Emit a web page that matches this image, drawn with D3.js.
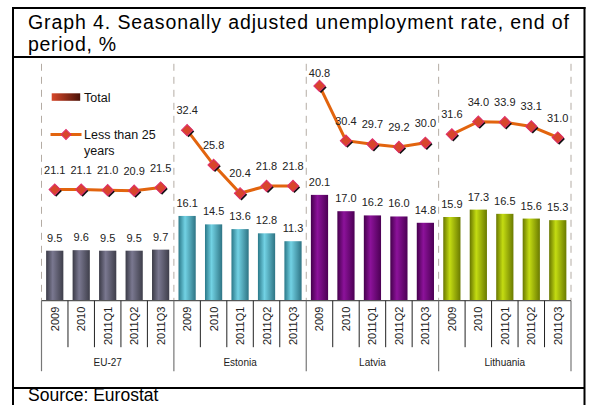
<!DOCTYPE html>
<html>
<head>
<meta charset="utf-8">
<script src="https://cdn.jsdelivr.net/npm/d3@7"></script>
<style>
  html, body { margin: 0; padding: 0; background: #fff; }
  svg { display: block; font-family: "Liberation Sans", Arial, sans-serif; }
</style>
</head>
<body>
<svg id="chart" width="591" height="405"></svg>
<script>
// Unemployment data, end of period, %
const countries = ["EU-27", "Estonia", "Latvia", "Lithuania"];
const periods = ["2009", "2010", "2011Q1", "2011Q2", "2011Q3"];
const totalRates = [
  [9.5, 9.6, 9.5, 9.5, 9.7],
  [16.1, 14.5, 13.6, 12.8, 11.3],
  [20.1, 17.0, 16.2, 16.0, 14.8],
  [15.9, 17.3, 16.5, 15.6, 15.3]
];
const youthRates = [
  [21.1, 21.1, 21.0, 20.9, 21.5],
  [32.4, 25.8, 20.4, 21.8, 21.8],
  [40.8, 30.4, 29.7, 29.2, 30.0],
  [31.6, 34.0, 33.9, 33.1, 31.0]
];
const yDomain = [0, 45];

// Bar shading per country: [edge, highlight, far edge]
const barColors = [
  ["#3a3a46", "#7a7890", "#3e3e4a"],
  ["#2a7888", "#72d2e4", "#2e7484"],
  ["#45004c", "#8c129a", "#4c0054"],
  ["#687600", "#c4dc12", "#6a7a00"]
];

const svg = d3.select("#chart");
const W = 591, H = 405;
const plot = { left: 41.5, right: 571, top: 63.8, bottom: 300.7 };

svg.append("rect").attr("width", W).attr("height", H).attr("fill", "#fff");

// Flattened category keys
const rows = [];
countries.forEach((c, gi) => periods.forEach((p, pi) => rows.push({
  key: c + "|" + p, country: c, period: p, gi, pi,
  total: totalRates[gi][pi], youth: youthRates[gi][pi]
})));

const x = d3.scaleBand().domain(rows.map(d => d.key))
  .range([plot.left, plot.right]).paddingInner(0.35).paddingOuter(0.175);
const xg = d3.scaleBand().domain(countries).range([plot.left, plot.right]);
const y = d3.scaleLinear().domain(yDomain).range([plot.bottom, plot.top]);
const step = x.step();
const cx = d => x(d.key) + x.bandwidth() / 2;

// Gradients
const defs = svg.append("defs");
barColors.forEach((c, i) => {
  const g = defs.append("linearGradient").attr("id", "bar" + i)
    .attr("x1", "0").attr("x2", "1").attr("y1", "0").attr("y2", "0");
  g.append("stop").attr("offset", "0%").attr("stop-color", c[0]);
  g.append("stop").attr("offset", "38%").attr("stop-color", c[1]);
  g.append("stop").attr("offset", "100%").attr("stop-color", c[2]);
});
const lg = defs.append("linearGradient").attr("id", "legendTotal")
  .attr("x1", "0").attr("x2", "1");
lg.append("stop").attr("offset", "0%").attr("stop-color", "#d8482a");
lg.append("stop").attr("offset", "100%").attr("stop-color", "#4a1208");

// Dashed separators between countries
const bounds = countries.map(c => xg(c)).concat([plot.right]);
svg.append("g").selectAll("line").data(bounds).join("line")
  .attr("x1", d => d).attr("x2", d => d)
  .attr("y1", plot.top).attr("y2", plot.bottom)
  .attr("stroke", "#b4aca4").attr("stroke-width", 1)
  .attr("stroke-dasharray", "7,6");

// Bars
svg.append("g").selectAll("rect").data(rows).join("rect")
  .attr("x", d => x(d.key)).attr("width", x.bandwidth())
  .attr("y", d => y(d.total)).attr("height", d => y(0) - y(d.total))
  .attr("fill", d => "url(#bar" + d.gi + ")");

// Bar value labels
svg.append("g").selectAll("text").data(rows).join("text")
  .attr("x", cx).attr("y", d => y(d.total) - 9)
  .attr("text-anchor", "middle").attr("font-size", 11).attr("fill", "#222")
  .text(d => d.total.toFixed(1));

// Youth lines, one per country
const line = d3.line().x(cx).y(d => y(d.youth));
svg.append("g").selectAll("path").data(countries).join("path")
  .attr("d", c => line(rows.filter(r => r.country === c)))
  .attr("fill", "none").attr("stroke", "#e2640e").attr("stroke-width", 3);

// Diamond markers with shadow
function marker(sel, px, py) {
  const g = sel.append("g").attr("transform", `translate(${px},${py}) rotate(45)`);
  g.append("rect").attr("x", -4).attr("y", -4).attr("width", 8).attr("height", 8)
    .attr("fill", "#111").attr("transform", "translate(2.1,0)");
  g.append("rect").attr("x", -4).attr("y", -4).attr("width", 8).attr("height", 8)
    .attr("fill", "#d8452c").attr("stroke", "#e0306e").attr("stroke-width", 1);
}
const mk = svg.append("g");
rows.forEach(d => marker(mk, cx(d), y(d.youth)));

// Youth value labels
svg.append("g").selectAll("text").data(rows).join("text")
  .attr("x", cx).attr("y", d => Math.max(y(d.youth) - 16, 77))
  .attr("text-anchor", "middle").attr("font-size", 11).attr("fill", "#222")
  .text(d => d.youth.toFixed(1));

// Category axis
const ax = svg.append("g");
ax.append("line").attr("x1", plot.left).attr("x2", plot.right)
  .attr("y1", plot.bottom).attr("y2", plot.bottom)
  .attr("stroke", "#555").attr("stroke-width", 1.2);
const inner = rows.filter(d => d.pi > 0).map(d => x(d.key) - step * 0.175);
ax.selectAll("line.cat").data(inner).join("line").attr("class", "cat")
  .attr("x1", d => d).attr("x2", d => d)
  .attr("y1", plot.bottom).attr("y2", plot.bottom + 46.5)
  .attr("stroke", "#222").attr("stroke-width", 1);
ax.selectAll("line.grp").data(bounds).join("line").attr("class", "grp")
  .attr("x1", d => d).attr("x2", d => d)
  .attr("y1", plot.bottom).attr("y2", plot.bottom + 70.5)
  .attr("stroke", "#777").attr("stroke-width", 1.2);
ax.selectAll("text.tick").data(rows).join("text").attr("class", "tick")
  .attr("transform", d => `translate(${cx(d) + 4},${plot.bottom + 6}) rotate(-90)`)
  .attr("text-anchor", "end").attr("font-size", 11).attr("fill", "#222")
  .text(d => d.period);
ax.selectAll("text.grp").data(countries).join("text").attr("class", "grp")
  .attr("x", c => xg(c) + xg.bandwidth() / 2).attr("y", plot.bottom + 65)
  .attr("text-anchor", "middle").attr("font-size", 10).attr("fill", "#222")
  .text(c => c);

// Legend
const leg = svg.append("g");
leg.append("rect").attr("x", 51.7).attr("y", 93.3).attr("width", 28.5).attr("height", 7.5)
  .attr("fill", "url(#legendTotal)");
leg.append("text").attr("x", 84).attr("y", 101.5).attr("font-size", 12.5).attr("fill", "#111").text("Total");
leg.append("line").attr("x1", 50.5).attr("x2", 81.5).attr("y1", 134.5).attr("y2", 134.5)
  .attr("stroke", "#e2640e").attr("stroke-width", 3);
const lm = leg.append("g").attr("transform", "translate(66,134.5) rotate(45)");
lm.append("rect").attr("x", -3.5).attr("y", -3.5).attr("width", 7).attr("height", 7)
  .attr("fill", "#d8452c").attr("stroke", "#e0306e").attr("stroke-width", 1);
leg.append("text").attr("x", 84).attr("y", 139).attr("font-size", 12.5).attr("fill", "#111").text("Less than 25");
leg.append("text").attr("x", 84).attr("y", 155).attr("font-size", 12.5).attr("fill", "#111").text("years");

// Frame, title and source
const fr = svg.append("g").attr("stroke", "#000").attr("stroke-width", 2);
fr.append("line").attr("x1", 12).attr("x2", 585.5).attr("y1", 8).attr("y2", 8);
fr.append("line").attr("x1", 13).attr("x2", 13).attr("y1", 7).attr("y2", H);
fr.append("line").attr("x1", 584.5).attr("x2", 584.5).attr("y1", 7).attr("y2", H);
fr.append("line").attr("x1", 13).attr("x2", 584.5).attr("y1", 57).attr("y2", 57);
fr.append("line").attr("x1", 13).attr("x2", 584.5).attr("y1", 388).attr("y2", 388);

svg.append("text").attr("x", 28).attr("y", 28.5).attr("font-size", 19.5).attr("fill", "#000")
  .attr("textLength", 541).attr("lengthAdjust", "spacing")
  .text("Graph 4. Seasonally adjusted unemployment rate, end of");
svg.append("text").attr("x", 28).attr("y", 51).attr("font-size", 19.5).attr("fill", "#000")
  .attr("textLength", 88).attr("lengthAdjust", "spacing")
  .text("period, %");
svg.append("text").attr("x", 28).attr("y", 401).attr("font-size", 17.5).attr("fill", "#000")
  .text("Source: Eurostat");
</script>
</body>
</html>
